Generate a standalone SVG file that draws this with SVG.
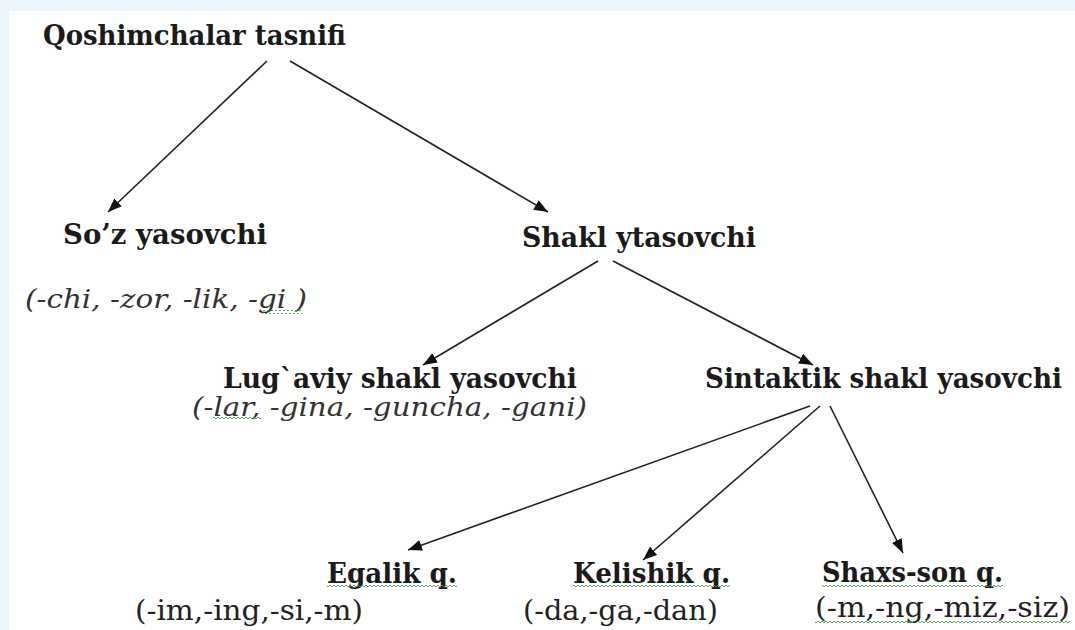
<svg xmlns="http://www.w3.org/2000/svg" width="1075" height="630" viewBox="0 0 1075 630" font-family="DejaVu Serif, serif">
<style>
.b{font-weight:bold;font-size:28px;fill:#1b1b1b}
.it{font-style:italic;font-size:26px;fill:#333}
.r{font-size:27px;fill:#222}
.ln{stroke:#222;stroke-width:1.6;fill:none;marker-end:url(#ah)}
.wv{fill:url(#wavy)}
</style>
<defs>
<marker id="ah" markerUnits="userSpaceOnUse" markerWidth="15" markerHeight="11" refX="14" refY="5.5" orient="auto">
<path d="M0,0 L14,5.5 L0,11 z" fill="#111"/>
</marker>
<pattern id="wavy" patternUnits="userSpaceOnUse" width="4" height="4">
<polyline points="0,3 2,1 4,3" fill="none" stroke="#4a9a4a" stroke-width="0.9"/>
</pattern>
</defs>
<rect x="0" y="0" width="1075" height="630" fill="#EBF6FC"/>
<rect x="9" y="11" width="1066" height="619" fill="#FFFFFF"/>
<g id="connectors">
<line class="ln" x1="267" y1="61" x2="108" y2="212"/>
<line class="ln" x1="290" y1="61" x2="548" y2="212"/>
<line class="ln" x1="598" y1="261" x2="423" y2="365"/>
<line class="ln" x1="613" y1="261" x2="813" y2="365"/>
<line class="ln" x1="810" y1="406" x2="408" y2="550"/>
<line class="ln" x1="820" y1="406" x2="643" y2="560"/>
<line class="ln" x1="830" y1="406" x2="903" y2="553"/>
</g>
<g id="root">
<text class="b" x="43" y="45" font-size="29" textLength="303" lengthAdjust="spacingAndGlyphs">Qoshimchalar tasnifi</text>
</g>
<g id="soz">
<text class="b" x="63" y="244" textLength="204" lengthAdjust="spacingAndGlyphs">So’z yasovchi</text>
<text class="it" x="25" y="308" textLength="282" lengthAdjust="spacingAndGlyphs">(-chi, -zor, -lik, -gi )</text>
<rect class="wv" x="262" y="310" width="40" height="4"/>
</g>
<g id="shakl">
<text class="b" x="522" y="247" textLength="234" lengthAdjust="spacingAndGlyphs">Shakl ytasovchi</text>
</g>
<g id="lugaviy">
<text class="b" x="223" y="388" textLength="354" lengthAdjust="spacingAndGlyphs">Lug`aviy shakl yasovchi</text>
<text class="it" x="192" y="416" textLength="395" lengthAdjust="spacingAndGlyphs">(-lar, -gina, -guncha, -gani)</text>
<rect class="wv" x="213" y="417" width="48" height="4"/>
</g>
<g id="sintaktik">
<text class="b" x="705" y="388" textLength="357" lengthAdjust="spacingAndGlyphs">Sintaktik shakl yasovchi</text>
</g>
<g id="egalik">
<text class="b" x="327" y="583" textLength="130" lengthAdjust="spacingAndGlyphs">Egalik q.</text>
<rect class="wv" x="327" y="585" width="130" height="4"/>
<text class="r" x="135" y="620" textLength="228" lengthAdjust="spacingAndGlyphs">(-im,-ing,-si,-m)</text>
</g>
<g id="kelishik">
<text class="b" x="573" y="583" textLength="157" lengthAdjust="spacingAndGlyphs">Kelishik q.</text>
<rect class="wv" x="573" y="585" width="157" height="4"/>
<text class="r" x="523" y="620" textLength="195" lengthAdjust="spacingAndGlyphs">(-da,-ga,-dan)</text>
</g>
<g id="shaxs">
<text class="b" x="822" y="582" textLength="181" lengthAdjust="spacingAndGlyphs">Shaxs-son q.</text>
<rect class="wv" x="822" y="584" width="181" height="4"/>
<text class="r" x="815" y="617" textLength="255" lengthAdjust="spacingAndGlyphs">(-m,-ng,-miz,-siz)</text>
<rect class="wv" x="815" y="620" width="255" height="4"/>
</g>
</svg>
